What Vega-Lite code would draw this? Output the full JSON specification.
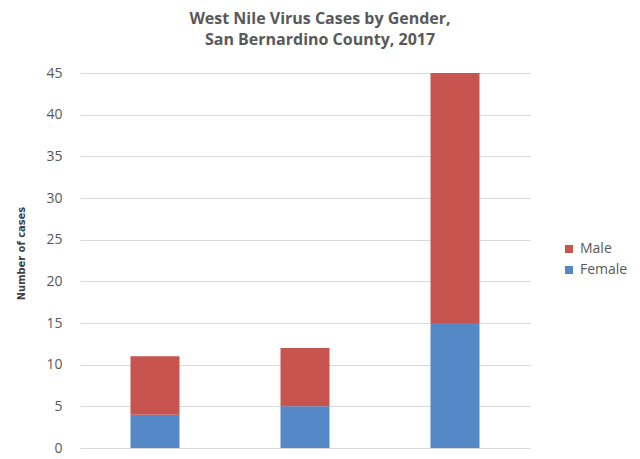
{
  "$schema": "https://vega.github.io/schema/vega-lite/v6.json",
  "width": 450,
  "height": 375,
  "autosize": {"type": "none"},
  "padding": {"left": 80, "top": 73, "right": 110, "bottom": 11},
  "background": "white",
  "title": {
    "text": ["West Nile Virus Cases by Gender,", "San Bernardino County, 2017"],
    "font": "Open Sans",
    "fontSize": 16,
    "fontWeight": "bold",
    "color": "#595959",
    "lineHeight": 21,
    "anchor": "middle",
    "dx": 15,
    "offset": 18
  },
  "data": {
    "values": [
      {"category": "Group 1", "gender": "Female", "cases": 4},
      {"category": "Group 1", "gender": "Male", "cases": 7},
      {"category": "Group 2", "gender": "Female", "cases": 5},
      {"category": "Group 2", "gender": "Male", "cases": 7},
      {"category": "Group 3", "gender": "Female", "cases": 15},
      {"category": "Group 3", "gender": "Male", "cases": 30}
    ]
  },
  "mark": {"type": "bar", "width": 49},
  "encoding": {
    "x": {
      "field": "category",
      "type": "nominal",
      "axis": null,
      "scale": {"paddingInner": 0, "paddingOuter": 0}
    },
    "y": {
      "field": "cases",
      "type": "quantitative",
      "stack": "zero",
      "scale": {"domain": [0, 45], "nice": false},
      "axis": {
        "title": "Number of cases",
        "titleFont": "DejaVu Sans Condensed, Roboto, sans-serif",
        "titleFontSize": 11,
        "titleFontWeight": "bold",
        "titleColor": "#404040",
        "titlePadding": 19,
        "titleY": 180,
        "values": [0, 5, 10, 15, 20, 25, 30, 35, 40, 45],
        "labelFont": "Open Sans",
        "labelFontSize": 14,
        "labelColor": "#595959",
        "labelPadding": 18,
        "domain": false,
        "ticks": false,
        "grid": true,
        "gridColor": "#d9d9d9",
        "gridWidth": 1
      }
    },
    "color": {
      "field": "gender",
      "type": "nominal",
      "scale": {"domain": ["Male", "Female"], "range": ["#C85450", "#5488C7"]},
      "legend": {
        "title": null,
        "orient": "none",
        "legendX": 482,
        "legendY": 169,
        "symbolType": "square",
        "symbolSize": 64,
        "symbolStrokeWidth": 0,
        "labelFont": "Open Sans",
        "labelFontSize": 14,
        "labelColor": "#595959",
        "rowPadding": 7
      }
    },
    "order": {"field": "gender", "sort": "ascending"}
  },
  "config": {"view": {"stroke": null}}
}
